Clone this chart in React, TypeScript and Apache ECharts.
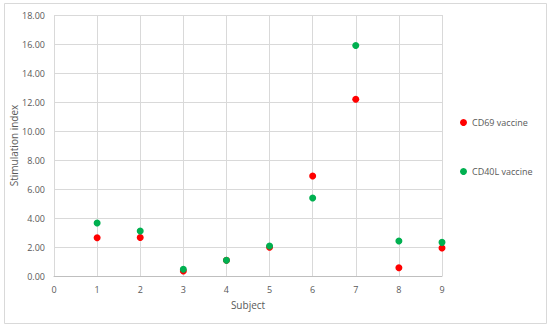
import React, { useEffect, useRef } from "react";
import * as echarts from "echarts";

const subjects = [1, 2, 3, 4, 5, 6, 7, 8, 9];
const cd69 = [2.64, 2.65, 0.34, 1.08, 1.98, 6.9, 12.19, 0.57, 1.93];
const cd40l = [3.66, 3.1, 0.46, 1.08, 2.07, 5.38, 15.9, 2.41, 2.32];
const seriesNames = ["CD69 vaccine", "CD40L vaccine"];

const FONT = "'Open Sans', 'Noto Sans', sans-serif";
const TXT = "#595959";

export default function App() {
  const ref = useRef<HTMLDivElement>(null);
  useEffect(() => {
    if (!ref.current) return;
    const chart = echarts.init(ref.current, null, { renderer: "svg" });
    chart.setOption({
      animation: false,
      backgroundColor: "#fff",
      textStyle: { fontFamily: FONT },
      grid: { left: 54, right: 108, top: 15, bottom: 51, containLabel: false, outerBoundsMode: "none" },
      graphic: [
        {
          type: "rect",
          shape: { x: 4.5, y: 3.5, width: 542, height: 320 },
          style: { fill: "none", stroke: "#d9d9d9", lineWidth: 1 },
          silent: true,
        },
      ],
      legend: [
        {
          data: [seriesNames[0]],
          left: 455,
          top: 113,
          orient: "vertical",
          icon: "circle",
          itemWidth: 7,
          itemHeight: 7,
          textStyle: { color: TXT, fontSize: 9, fontFamily: FONT },
        },
        {
          data: [seriesNames[1]],
          left: 455,
          top: 162,
          orient: "vertical",
          icon: "circle",
          itemWidth: 7,
          itemHeight: 7,
          textStyle: { color: TXT, fontSize: 9, fontFamily: FONT },
        },
      ],
      xAxis: {
        type: "value",
        min: 0,
        max: 9,
        interval: 1,
        name: "Subject",
        nameLocation: "middle",
        nameGap: 24,
        nameTextStyle: { color: TXT, fontSize: 10, fontFamily: FONT },
        axisLine: { show: true, lineStyle: { color: "#bfbfbf", width: 1 } },
        axisTick: { show: false },
        axisLabel: { color: TXT, fontSize: 9, fontFamily: FONT, margin: 9 },
        splitLine: { show: true, lineStyle: { color: "#d9d9d9", width: 1 } },
      },
      yAxis: {
        type: "value",
        min: 0,
        max: 18,
        interval: 2,
        name: "Stimulation index",
        nameLocation: "middle",
        nameGap: 35,
        nameMoveOverlap: false,
        nameTextStyle: { color: TXT, fontSize: 10, fontFamily: FONT },
        axisLine: { show: false },
        axisTick: { show: false },
        axisLabel: {
          color: TXT,
          fontSize: 9,
          fontFamily: FONT,
          margin: 9,
          formatter: (v: number) => v.toFixed(2),
        },
        splitLine: { show: true, lineStyle: { color: "#d9d9d9", width: 1 } },
      },
      series: [
        {
          name: seriesNames[0],
          type: "scatter",
          symbol: "circle",
          symbolSize: 7,
          itemStyle: { color: "#ff0000", opacity: 1 },
          data: subjects.map((s, i) => [s, cd69[i]]),
          z: 2,
        },
        {
          name: seriesNames[1],
          type: "scatter",
          symbol: "circle",
          symbolSize: 7,
          itemStyle: { color: "#00b050", opacity: 1 },
          data: subjects.map((s, i) => [s, cd40l[i]]),
          z: 3,
        },
      ],
    });
    return () => chart.dispose();
  }, []);
  return (
    <div
      ref={ref}
      style={{ position: "fixed", left: 0, top: 0, width: 550, height: 327 }}
    />
  );
}
